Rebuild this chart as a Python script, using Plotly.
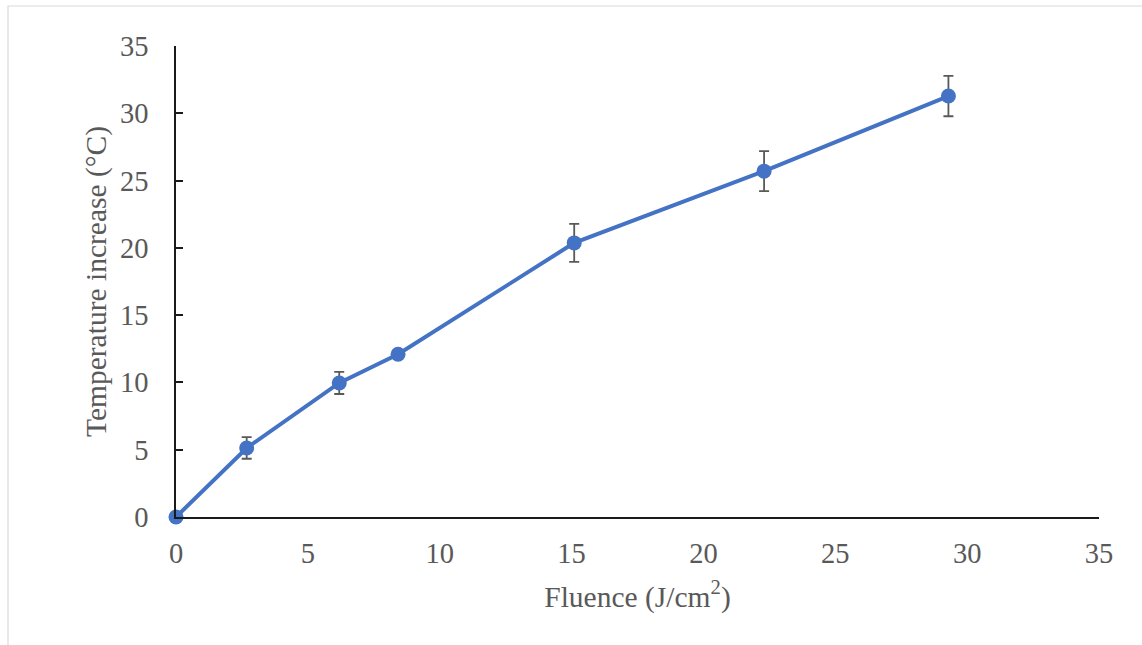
import plotly.graph_objects as go

fluence = [0, 2.68, 6.19, 8.42, 15.1, 22.3, 29.29]
temp_increase = [0, 5.13, 9.96, 12.09, 20.37, 25.7, 31.28]
temp_err = [0, 0.8, 0.82, 0.3, 1.41, 1.49, 1.5]
tick_vals = [0, 5, 10, 15, 20, 25, 30, 35]

W, H = 1142, 645
L, R, T, B = 176, 43, 46, 128

fig = go.Figure()
fig.add_trace(go.Scatter(
    x=fluence, y=temp_increase, mode="lines+markers",
    line=dict(color="#4472C4", width=4),
    marker=dict(color="#4472C4", size=15),
    error_y=dict(type="data", array=temp_err, visible=True,
                 color="#595959", thickness=1.8, width=5),
    cliponaxis=False,
    showlegend=False,
))

family = "Liberation Serif, Times New Roman, serif"
tick_font = dict(family=family, size=28.5, color="#595959")
title_font = dict(family=family, size=29.5, color="#595959")
pw = W - L - R
ph = H - T - B
fig.update_layout(
    width=W, height=H,
    margin=dict(l=L, r=R, t=T, b=B, pad=0),
    paper_bgcolor="white", plot_bgcolor="white",
    font=tick_font,
    xaxis=dict(range=[0, 35], tickvals=tick_vals, showgrid=False, zeroline=False,
               showline=True, linecolor="#1a1a1a", linewidth=1.8, ticks="",
               ticklabelstandoff=10, tickfont=tick_font,
               title=dict(text="Fluence (J/cm<sup>2</sup>)", font=title_font, standoff=18),
               automargin=False),
    yaxis=dict(range=[0, 35], tickvals=tick_vals, showgrid=False, zeroline=False,
               showline=True, linecolor="#1a1a1a", linewidth=1.8, ticks="inside",
               ticklen=7, tickwidth=1.8, tickcolor="#1a1a1a",
               ticklabelstandoff=20, tickfont=tick_font,
               title=dict(text="Temperature increase (°C)", font=title_font, standoff=5),
               automargin=False),
    shapes=[dict(type="rect", xref="paper", yref="paper",
                 x0=(8 - L) / pw, x1=(W + 5 - L) / pw,
                 y0=-(H + 5 - T - ph) / ph, y1=(H - 6 - B) / ph,
                 line=dict(color="#d9d9d9", width=1.2), layer="below")],
)

fig.write_html("out.html")
